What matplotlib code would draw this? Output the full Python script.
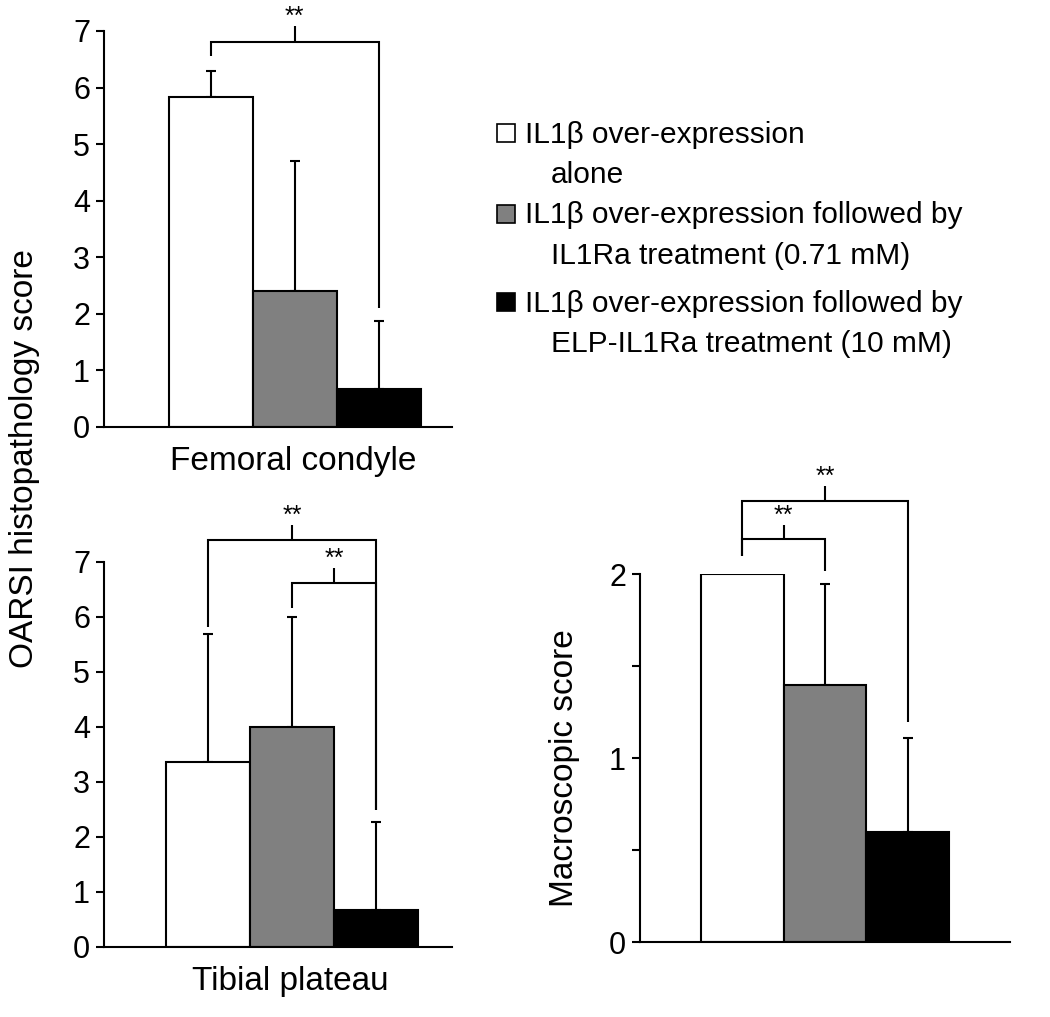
import matplotlib
matplotlib.use('Agg')
import matplotlib.pyplot as plt
from matplotlib.patches import Rectangle
import numpy as np

plt.rcParams['font.family'] = ['Liberation Sans', 'DejaVu Sans']

# groups: IL1b alone, IL1b + IL1Ra, IL1b + ELP-IL1Ra
bar_colors = ['white', '#808080', 'black']

femoral_mean = [5.84, 2.41, 0.68]
femoral_err = [0.46, 2.29, 1.19]
tibial_mean = [3.35, 4.00, 0.67]
tibial_err = [2.33, 2.00, 1.60]
macro_mean = [2.00, 1.40, 0.60]
macro_err = [0.0, 0.55, 0.51]

legend_lines = [
    ('IL1β over-expression', 'alone'),
    ('IL1β over-expression followed by', 'IL1Ra treatment (0.71 mM)'),
    ('IL1β over-expression followed by', 'ELP-IL1Ra treatment (10 mM)'),
]

# significance brackets: (i, j, bar height, leg bottom i, leg bottom j, tick top)
femoral_sig = [(0, 2, 6.81, 6.55, 2.10, 7.08)]
tibial_sig = [(0, 2, 7.40, 5.82, 2.49, 7.67), (1, 2, 6.61, 6.16, 2.49, 6.88)]
macro_sig = [(0, 1, 2.19, 2.10, 2.02, 2.27), (0, 2, 2.40, 2.10, 1.20, 2.48)]

W, H = 1050, 1017
fig = plt.figure(figsize=(W / 100, H / 100), dpi=100)
LW = 1.5
LABEL_FS = 24


def panel(rect, mean, err, sig, xlim, ylim, yticks, ylabels):
    ax = fig.add_axes(rect)
    x = np.arange(len(mean))
    ax.bar(x, mean, width=1.0, color=bar_colors, edgecolor='black', linewidth=LW, zorder=2)
    ax.errorbar(x, mean, yerr=[np.zeros(len(err)), err], fmt='none', ecolor='black',
                elinewidth=LW, capsize=3.6, capthick=LW, zorder=1)
    for (i, j, yb, li, lj, tt) in sig:
        ax.plot([i, i, j, j], [li, yb, yb, lj], color='black', lw=LW, clip_on=False,
                solid_capstyle='butt', solid_joinstyle='miter')
        xm = (i + j) / 2
        ax.plot([xm, xm], [yb, tt], color='black', lw=LW, clip_on=False, solid_capstyle='butt')
        ax.annotate('**', (xm, tt), xytext=(0, -2), textcoords='offset points',
                    ha='center', va='bottom', fontsize=18, annotation_clip=False)
    ax.set_xlim(*xlim)
    ax.set_ylim(*ylim)
    ax.set_yticks(yticks)
    ax.set_yticklabels(ylabels)
    ax.set_xticks([])
    for s in ['top', 'right']:
        ax.spines[s].set_visible(False)
    for s in ['left', 'bottom']:
        ax.spines[s].set_linewidth(LW)
    ax.tick_params(axis='y', length=6, width=LW, labelsize=22, pad=4)
    ax.set_facecolor('none')
    return ax


def px(x0, y0, x1, y1):
    return [x0 / W, 1 - y1 / H, (x1 - x0) / W, (y1 - y0) / H]


panel(px(104, 31, 452, 427), femoral_mean, femoral_err, femoral_sig,
      (-1.27, 2.875), (0, 7), range(8), [str(v) for v in range(8)])
panel(px(104, 561.7, 452, 946.7), tibial_mean, tibial_err, tibial_sig,
      (-1.24, 2.905), (0, 7), range(8), [str(v) for v in range(8)])
panel(px(640, 574.3, 1010, 942.3), macro_mean, macro_err, macro_sig,
      (-1.24, 3.24), (0, 2), [0, 0.5, 1, 1.5, 2], ['0', '', '1', '', '2'])

fig.text(25 / W, 1 - 459 / H, 'OARSI histopathology score', rotation=90,
         ha='center', va='center', fontsize=LABEL_FS)
fig.text(565 / W, 1 - 768 / H, 'Macroscopic score', rotation=90,
         ha='center', va='center', fontsize=LABEL_FS)
fig.text(293 / W, 1 - 470 / H, 'Femoral condyle', ha='center', va='baseline', fontsize=LABEL_FS)
fig.text(290 / W, 1 - 990 / H, 'Tibial plateau', ha='center', va='baseline', fontsize=LABEL_FS)

# legend
baselines = [(142.7, 183.3), (223.3, 264.3), (311.7, 351.7)]
for (l1, l2), (b1, b2), c in zip(legend_lines, baselines, bar_colors):
    fig.patches.append(Rectangle((497 / W, 1 - (b1 - 0.5) / H), 18 / W, 18 / H,
                                 facecolor=c, edgecolor='black', linewidth=1.2,
                                 transform=fig.transFigure))
    fig.text(525 / W, 1 - b1 / H, l1, ha='left', va='baseline', fontsize=21.5)
    fig.text(551 / W, 1 - b2 / H, l2, ha='left', va='baseline', fontsize=21.5)

fig.savefig('out.png', dpi=100)
